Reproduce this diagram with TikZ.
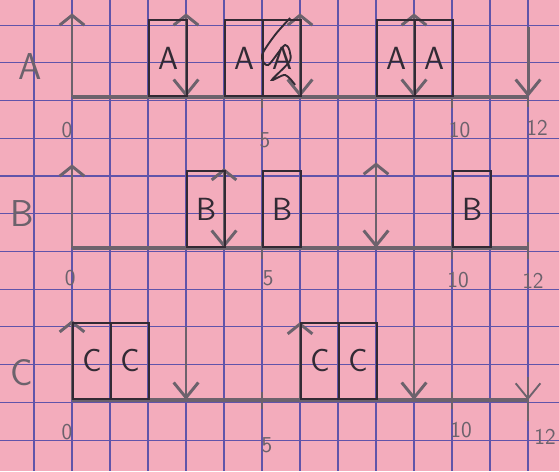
\documentclass[tikz,border=0pt]{standalone}
\usepackage{fontspec}
\usepackage{xcolor}
\usepackage{tikz}
\usetikzlibrary{arrows.meta,positioning}

\definecolor{paper}{RGB}{243,172,188}
\definecolor{gridblue}{RGB}{96,84,170}
\definecolor{pencil}{RGB}{108,98,108}
\definecolor{ink}{RGB}{50,42,52}

\begin{document}
\begin{tikzpicture}[
  slot/.style={draw=ink, line width=1.6pt, minimum width=1cm, minimum height=2cm,
    anchor=south west, inner sep=0pt, text=ink, font=\sffamily\fontsize{24}{24}\selectfont},
  axis/.style={draw=pencil, line width=2.6pt},
  rel/.style={draw=pencil, line width=2.2pt, -{Straight Barb[length=2.6mm,width=6.5mm]}},
  dl/.style={draw=pencil, line width=2.2pt, -{Straight Barb[length=4mm,width=6.5mm]}},
  tck/.style={draw=pencil, line width=1.4pt},
  num/.style={text=pencil, inner sep=0pt, font=\sffamily\fontsize{17}{17}\selectfont},
  task/.style={text=pencil, inner sep=0pt, font=\sffamily\fontsize{28}{28}\selectfont},
]

% Paper
\useasboundingbox[fill=paper] (0,0) rectangle (14.71,-12.395);
\foreach \k in {0,...,13}
  \draw[gridblue, line width=0.8pt] (0.895+\k,0) -- (0.895+\k,-12.395);
\foreach \k in {0,...,11}
  \draw[gridblue, line width=0.8pt] (0,-0.66-0.993*\k) -- (14.71,-0.66-0.993*\k);

% Task A
\begin{scope}[shift={(1.895,-2.553)}]
  \node[task] (labA) at (-1.1,0.79) {A};
  \draw[axis] (0,0) -- (12,0);
  \foreach \t in {0,3,6,9} \draw[rel] (\t,0) -- (\t,2.2);
  \foreach \t in {3,6,9} \draw[dl] (\t,2) -- (\t,0);
  \draw[dl] (12,1.85) -- (12,0);
  \draw[tck] (12,0) -- (12,-0.25);
  \draw[tck] (5,0) -- (5,-0.3);
  \draw[tck] (10,0) -- (10,-0.3);
  \node[slot] (a1) at (2,0) {A};
  \node[slot] (a2) at (4,0) {A};
  \node[slot] (a3) at (5,0) {A};
  \node[slot] (a4) at (8,0) {A};
  \node[slot] (a5) at (9,0) {A};
  % crossed out
  \draw[ink, line width=1.4pt] plot[smooth] coordinates {(5.74,2.08) (5.34,1.63) (5.0,1.1)
    (5.16,0.84) (5.61,1.37) (5.74,0.97) (5.26,0.45) (5.61,0.58) (5.87,0.32)};
  \node[num] (a0t) at (-0.13,-0.87) {0};
  \node[num] (a5t) at (5.08,-1.13) {5};
  \node[num] (a10t) at (10.2,-0.87) {10};
  \node[num] (a12t) at (12.24,-0.82) {12};
\end{scope}

% Task B
\begin{scope}[shift={(1.895,-6.526)}]
  \node[task] (labB) at (-1.32,0.92) {B};
  \draw[axis] (0,0) -- (12,0);
  \draw[rel] (0,0) -- (0,2.2);
  \draw[rel] (4,0) -- (4,2.1);
  \draw[dl] (4,1.9) -- (4,0);
  \draw[rel] (8,0.1) -- (8,2.25);
  \draw[dl] (8,2.1) -- (8,0);
  \foreach \t in {5,10,12} \draw[tck] (\t,0.15) -- (\t,-0.3);
  \node[slot] (b1) at (3,0) {B};
  \node[slot] (b2) at (5,0) {B};
  \node[slot] (b3) at (10,0) {B};
  \node[num] (b0t) at (-0.05,-0.79) {0};
  \node[num] (b5t) at (5.16,-0.79) {5};
  \node[num] (b10t) at (10.16,-0.84) {10};
  \node[num] (b12t) at (12.13,-0.87) {12};
\end{scope}

% Task C
\begin{scope}[shift={(1.895,-10.526)}]
  \node[task] (labC) at (-1.32,0.71) {C};
  \draw[axis] (0,0) -- (12,0);
  \draw[rel] (0,0) -- (0,2.1);
  \draw[rel] (6,0) -- (6,2.05);
  \draw[dl] (3,1.92) -- (3,0);
  \draw[dl] (9,1.92) -- (9,0);
  \draw[dl, line width=1.4pt] (12,0.6) -- (12,0);
  \draw[tck] (12,0) -- (12,-0.55);
  \foreach \t in {5,10} \draw[tck] (\t,0.2) -- (\t,-0.25);
  \node[slot] (c1) at (0,0) {C};
  \node[slot] (c2) at (1,0) {C};
  \node[slot] (c3) at (6,0) {C};
  \node[slot] (c4) at (7,0) {C};
  \node[num] (c0t) at (-0.13,-0.84) {0};
  \node[num] (c5t) at (5.13,-1.18) {5};
  \node[num] (c10t) at (10.24,-0.79) {10};
  \node[num] (c12t) at (12.45,-0.97) {12};
\end{scope}

\end{tikzpicture}
\end{document}
